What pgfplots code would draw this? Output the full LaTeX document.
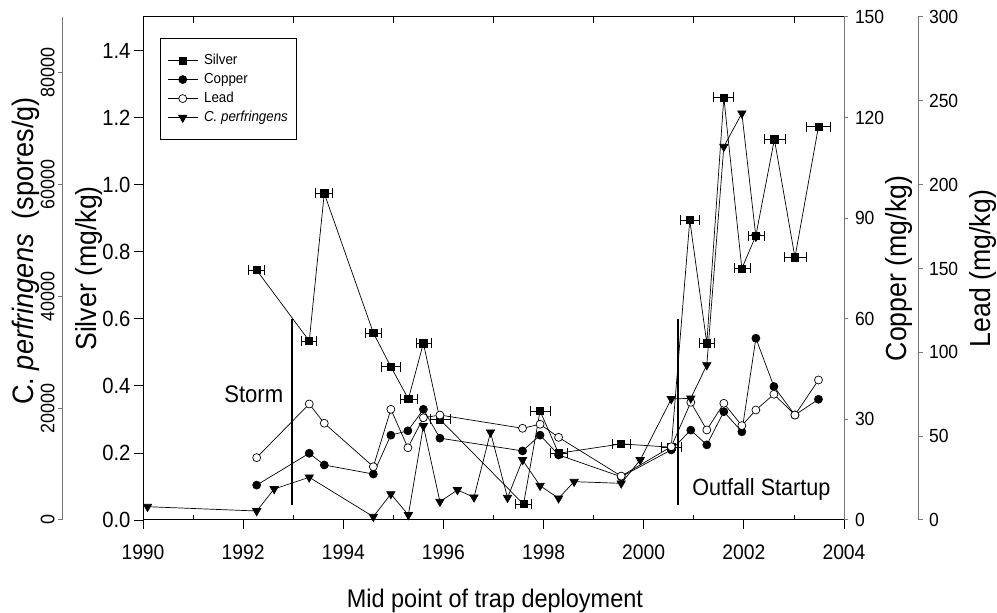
\documentclass[border=0pt]{standalone}
\usepackage{fontspec}
\setmainfont[FakeStretch=0.92]{Liberation Sans}
\usepackage{pgfplots}
\usepackage{pgfplotstable}
\pgfplotsset{compat=1.18}

\definecolor{scalegrey}{RGB}{118,118,118}
\newcommand{\fsz}[1]{\fontsize{#1}{#1}\selectfont}

% year, silver (mg/kg), half-width of deployment period (years)
\pgfplotstableread{
yr      ag     dx
1992.27 0.745  0.16
1993.32 0.534  0.15
1993.62 0.974  0.17
1994.60 0.558  0.16
1994.95 0.457  0.19
1995.30 0.361  0.17
1995.60 0.527  0.15
1995.93 0.300  0.20
1997.60 0.047  0.16
1997.93 0.325  0.20
1998.30 0.199  0.17
1999.55 0.227  0.18
2000.55 0.217  0.20
2000.92 0.894  0.19
2001.26 0.527  0.15
2001.60 1.260  0.20
2001.96 0.750  0.16
2002.24 0.848  0.16
2002.61 1.135  0.21
2003.02 0.783  0.22
2003.49 1.173  0.24
}\silver

% year, copper (mg/kg), lead (mg/kg)
\pgfplotstableread{
yr      cu    pb
1992.27 10.4  37.2
1993.32 19.9  69.2
1993.62 16.4  57.7
1994.60 13.7  31.8
1994.95 25.3  66.0
1995.29 26.6  43.1
1995.60 33.0  61.0
1995.93 24.4  62.6
1997.58 20.6  54.7
1997.93 25.3  57.1
1998.30 19.4  49.3
1999.55 12.9  26.2
2000.55 20.9  43.7
2000.94 26.8  70.2
2001.26 22.4  53.7
2001.60 32.3  69.6
2001.96 26.3  56.3
2002.24 54.2  65.6
2002.60 39.8  75.0
2003.02 31.3  62.6
2003.49 36.0  83.5
}\metals

% year, C. perfringens (spores/g)
\pgfplotstableread{
yr      cp
1990.09 2380
1992.27 1610
1992.62 5550
1993.32 7640
1994.60 590
1994.95 4650
1995.30 900
1995.60 16820
1995.93 3280
1996.28 5370
1996.61 4060
1996.94 15690
1997.28 3990
1997.58 10740
1997.93 6140
1998.30 3880
1998.61 6860
1999.55 6560
1999.93 10740
2000.55 21650
2000.94 21770
2001.26 27730
2001.60 66800
2001.96 72770
2002.24 50690
}\cperf

\pgfplotsset{
  panel/.style={scale only axis, width=701pt, height=503pt,
    at={(143pt,93pt)}, anchor=south west, xmin=1990, xmax=2004, clip=false,
    scaled ticks=false, /pgf/number format/assume math mode=true},
  strip/.style={scale only axis, width=100pt, height=503pt, xmin=0, xmax=1,
    axis x line=none, clip=false, scaled ticks=false,
    /pgf/number format/assume math mode=true},
  series/.style={black, line width=0.7pt, mark options={solid, line width=0.7pt}},
  agstyle/.style={series, mark=square*, mark size=3.6pt, mark options={fill=black}},
  custyle/.style={series, mark=*, mark size=4pt, mark options={fill=black}},
  pbstyle/.style={series, mark=*, mark size=4pt, mark options={fill=white}},
  cpstyle/.style={series, mark=triangle*, mark size=4.8pt, mark options={fill=black, rotate=180}},
  greyscale/.style={axis line style={scalegrey, line width=1pt},
    tick style={scalegrey, line width=1pt}, tick align=outside, major tick length=4.5pt},
}

\begin{document}
\begin{tikzpicture}
\path[use as bounding box] (0,0) rectangle (997pt,613pt);

% top frame line, odd years ticked inward
\begin{axis}[panel, ymin=0, ymax=1, axis x line*=top, axis y line=none,
  xtick={1991,1993,...,2003}, xticklabels={}, tick align=inside,
  major tick length=6.5pt, axis line style={line width=1pt},
  tick style={black, line width=0.8pt}]
\end{axis}

% inward minor ticks on the time axis
\begin{axis}[panel, ymin=0, ymax=1, axis x line*=bottom, axis y line=none,
  xtick={1991,1993,...,2003}, xticklabels={}, tick align=inside,
  major tick length=5pt, axis line style={line width=1pt},
  tick style={black, line width=0.8pt}]
\end{axis}

% silver on the main left scale
\begin{axis}[panel, ymin=0, ymax=1.5,
  axis x line*=bottom, axis y line*=left, tick align=outside,
  major tick length=9pt, axis line style={line width=1pt},
  tick style={black, line width=0.8pt},
  xtick={1990,1992,...,2004},
  xticklabels={1990,1992,1994,1996,1998,2000,2002,2004},
  ytick={0,0.2,0.4,0.6,0.8,1.0,1.2,1.4},
  yticklabels={0.0,0.2,0.4,0.6,0.8,1.0,1.2,1.4},
  xticklabel style={font=\fsz{21}, yshift=-12pt},
  yticklabel style={font=\fsz{22}},
  xlabel={Mid point of trap deployment},
  xlabel style={at={(axis description cs:0.502,-0.173)}, anchor=base, font=\fsz{25.5}},
  ylabel={Silver (mg/kg)},
  ylabel style={at={(axis description cs:-0.066,0.5)}, anchor=base, font=\fsz{29}}]
\addplot[black, line width=2.2pt] coordinates {(1992.97,0.045) (1992.97,0.6)};
\addplot[black, line width=2.2pt] coordinates {(2000.68,0.045) (2000.68,0.6)};
\node[anchor=base east, font=\fsz{24}] at (axis cs:1992.87,0.35) {Storm};
\node[anchor=base west, font=\fsz{23.5}] at (axis cs:2000.90,0.0716) {Outfall Startup};
\addplot[agstyle, error bars/.cd, x dir=both, x explicit, error mark=|,
  error bar style={line width=0.7pt, black},
  error mark options={line width=0.7pt, mark size=5pt, black}]
  table[x=yr, y=ag, x error=dx] {\silver};
\end{axis}

% copper on the first right scale
\begin{axis}[panel, ymin=0, ymax=150, axis x line=none, axis y line*=right,
  greyscale, ytick={0,30,60,90,120,150}, yticklabels={0,30,60,90,120,150},
  yticklabel style={font=\fsz{19}, xshift=3pt},
  ylabel={Copper (mg/kg)},
  ylabel style={at={(axis description cs:1.0894,0.5)}, anchor=base, font=\fsz{29}}]
\addplot[custyle] table[x=yr, y=cu] {\metals};
\end{axis}

% lead data
\begin{axis}[panel, ymin=0, ymax=300, hide axis]
\addplot[pbstyle] table[x=yr, y=pb] {\metals};
\end{axis}

% lead scale, offset to the right
\begin{axis}[strip, at={(918pt,93pt)}, anchor=south east, ymin=0, ymax=300,
  axis y line*=right, greyscale,
  ytick={0,50,100,150,200,250,300}, yticklabels={0,50,100,150,200,250,300},
  yticklabel style={font=\fsz{19}, xshift=3pt},
  ylabel={Lead (mg/kg)},
  ylabel style={at={(axis description cs:1.72,0.5)}, anchor=base, font=\fsz{29}}]
\end{axis}

% C. perfringens scale, offset to the left
\begin{axis}[strip, at={(63pt,93pt)}, anchor=south west, ymin=0, ymax=90000,
  axis y line*=left, greyscale, major tick length=5pt,
  ytick={0,20000,40000,60000,80000}, yticklabels={0,20000,40000,60000,80000},
  yticklabel style={rotate=90, anchor=south, font=\fsz{19.5}},
  ylabel={C. \textit{perfringens}\ \ (spores/g)},
  ylabel style={at={(axis description cs:-0.297,0.535)}, anchor=base, font=\fsz{29.5}}]
\end{axis}

% C. perfringens data and the shared legend
\begin{axis}[panel, ymin=0, ymax=90000, hide axis,
  legend style={at={(axis description cs:0.0243,0.9583)}, anchor=north west,
    draw=black, line width=0.7pt, inner xsep=7pt, inner ysep=14pt,
    font=\fsz{14.5}, row sep=2.5pt,
    nodes={inner sep=1pt, text height=11pt, text depth=3.5pt}},
  legend cell align=left,
  legend image code/.code={\draw[mark repeat=2, mark phase=2]
    plot coordinates {(0pt,0pt) (15pt,0pt) (30pt,0pt)};
    \path (35pt,0pt);}]
\addlegendimage{agstyle}
\addlegendentry{Silver}
\addlegendimage{custyle}
\addlegendentry{Copper}
\addlegendimage{pbstyle}
\addlegendentry{Lead}
\addplot[cpstyle] table[x=yr, y=cp] {\cperf};
\addlegendentry{\textit{C. perfringens}}
\end{axis}
\end{tikzpicture}
\end{document}
